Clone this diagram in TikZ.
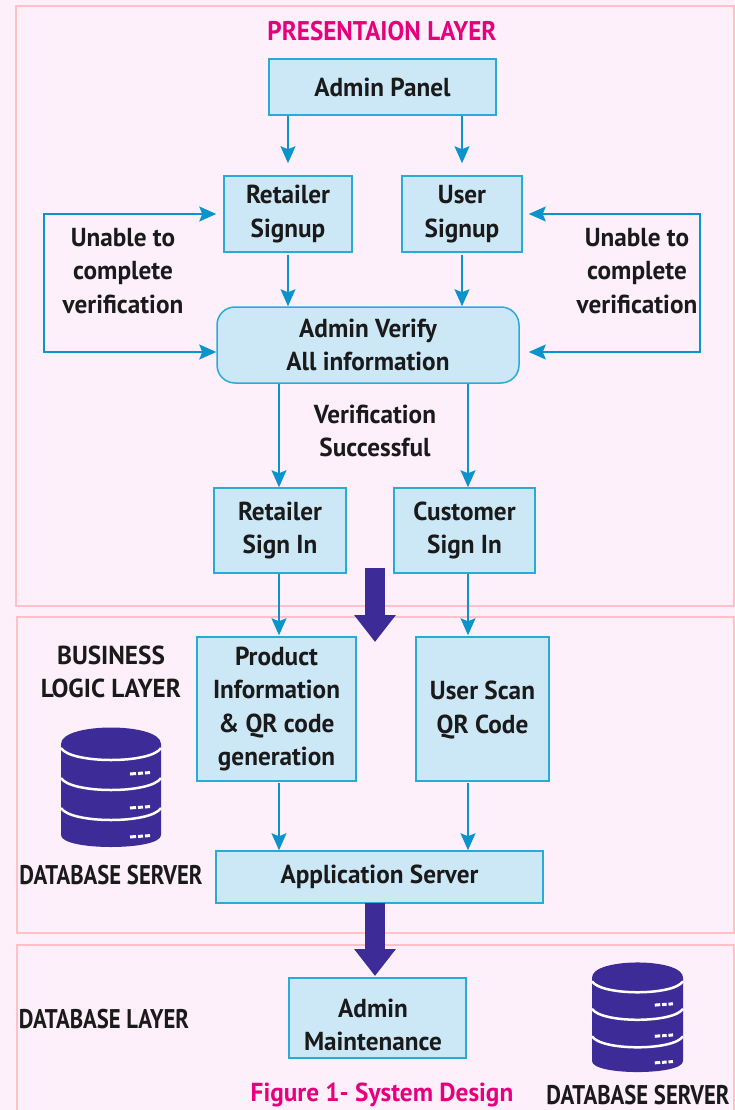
\documentclass[tikz,border=0pt]{standalone}
\usepackage{fontspec}
\setmainfont[FakeStretch=0.97]{PT Sans}
\newfontfamily\narrowfont[FakeStretch=0.84]{PT Sans}
\newfontfamily\titlefont[FakeStretch=0.93]{PT Sans}
\usetikzlibrary{arrows.meta}

\definecolor{pagepink}{HTML}{FDF0FA}
\definecolor{layerline}{HTML}{FFC0C8}
\definecolor{boxfill}{HTML}{CCE8F6}
\definecolor{boxline}{HTML}{29ABD9}
\definecolor{flowblue}{HTML}{0B94CC}
\definecolor{dbblue}{HTML}{3D2C97}
\definecolor{headpink}{HTML}{E6007E}
\definecolor{inkblack}{HTML}{1A1A1A}

\tikzset{
	layer/.style={draw=layerline, line width=1.5pt},
	label/.style={text=inkblack, align=center, inner sep=0pt, font=\fontsize{26}{33.5}\selectfont\bfseries},
	dblabel/.style={label, font=\fontsize{27}{33.5}\narrowfont\bfseries},
	head/.style={label, text=headpink},
	box/.style={label, draw=boxline, fill=boxfill, line width=1.5pt},
	flow/.style={draw=flowblue, line width=1.5pt, -{Stealth[length=17pt,width=15pt,inset=3pt]}},
	loop/.style={draw=flowblue, line width=1.5pt, {Stealth[length=17pt,width=15pt,inset=3pt]}-{Stealth[length=17pt,width=15pt,inset=3pt]}},
	bigflow/.style={draw=dbblue, line width=20pt, -{Triangle[length=27pt,width=40pt]}},
	dbserver/.pic={
		\fill[dbblue] (0,17) .. controls (0,-5) and (100,-5) .. (100,17) -- (100,108) .. controls (100,124) and (0,124) .. (0,108) -- cycle;
		\foreach \i/\j in {0/0,30/34,60/63} {
			\draw[white, line width=2.5pt] (0,21+\i) .. controls (10,37+\i) and (90,37+\i) .. (100,21+\i);
			\draw[white, line width=3pt] (69,47+\j) -- (75,46.5+\j) (77,46.5+\j) -- (82,46+\j) (84,46+\j) -- (89,45.5+\j);
		}
	}
}

\begin{document}
\begin{tikzpicture}[x=1pt, y=-1pt]

	\useasboundingbox (0,0) rectangle (735,1110);
	\fill[pagepink] (0,0) rectangle (735,1110);

	% layers
	\draw[layer] (16,6) rectangle (734,606);
	\draw[layer] (17,617) rectangle (734,933);
	\draw[layer] (17,945) rectangle (734,1112);

	% columns of the arrows below the verify box
	\coordinate (colL) at (279,0);
	\coordinate (colR) at (468,0);
	\coordinate (loopL) at (44,352);
	\coordinate (loopR) at (700,352);

	\node[head, font=\fontsize{27}{33.5}\titlefont\bfseries] (title) at (382,31) {PRESENTAION LAYER};

	\node[box, minimum width=227pt, minimum height=56pt] (panel) at (382.5,87) {Admin Panel};
	\node[box, minimum width=128pt, minimum height=76pt] (retailer) at (288,214) {Retailer\\Signup};
	\node[box, minimum width=120pt, minimum height=76pt] (user) at (462,214) {User\\Signup};
	\node[box, rounded corners=18pt, minimum width=302pt, minimum height=76pt] (verify) at (368,345) {Admin Verify\\All information};

	\node[label] (unableL) at (123,271) {Unable to\\complete\\verification};
	\node[label] (unableR) at (637,271) {Unable to\\complete\\verification};
	\node[label] (success) at (375,431) {Verification\\Successful};

	\node[box, minimum width=132pt, minimum height=85pt] (retailerin) at (280,530.5) {Retailer\\Sign In};
	\node[box, minimum width=141pt, minimum height=85pt] (customer) at (464.5,530.5) {Customer\\Sign In};

	\node[label] (business) at (111,672) {BUSINESS\\LOGIC LAYER};
	\node[box, minimum width=159pt, minimum height=144pt] (product) at (276.5,709) {Product\\Information\\\& QR code\\generation};
	\node[box, minimum width=133pt, minimum height=144pt] (scan) at (482.5,709) {};
	\node[label] (scantext) at (482.5,710) {User Scan\\QR Code};

	\node[dblabel] (serverA) at (111,875) {DATABASE SERVER};
	\node[box, minimum width=327pt, minimum height=52pt] (app) at (379.5,877) {Application Server};

	\node[dblabel] (dblayer) at (104,1019) {DATABASE LAYER};
	\node[box, minimum width=177pt, minimum height=80pt] (maint) at (377.5,1018) {};
	\node[label] (mainttext) at (373,1025) {Admin\\Maintenance};
	\node[head] (caption) at (382,1095) {Figure 1- System Design};
	\node[dblabel] (serverB) at (638,1095.5) {DATABASE SERVER};

	\pic at (61,727) {dbserver};
	\pic[xscale=.91, yscale=.917] at (592,962) {dbserver};

	% top part
	\draw[flow, shorten >=12pt] (panel.south -| retailer.north) -- (retailer.north);
	\draw[flow, shorten >=12pt] (panel.south -| user.north) -- (user.north);
	\draw[flow, shorten <=2pt] (retailer.south) -- (verify.north -| retailer.south);
	\draw[flow, shorten <=2pt] (user.south) -- (verify.north -| user.south);

	\draw[loop, shorten >=7pt] (verify.west |- loopL) -- (loopL) -- (loopL |- retailer.west) -- (retailer.west);
	\draw[loop, shorten <=9pt, shorten >=6pt] (verify.east |- loopR) -- (loopR) -- (loopR |- user.east) -- (user.east);

	% sign in and below
	\draw[flow] (verify.south -| colL) -- (retailerin.north -| colL);
	\draw[flow] (verify.south -| colR) -- (customer.north -| colR);
	\draw[flow, shorten >=1pt] (retailerin.south -| colL) -- (product.north -| colL);
	\draw[flow, shorten >=1pt] (customer.south -| colR) -- (scan.north -| colR);
	\draw[flow, shorten <=1pt] (product.south -| colL) -- (app.north -| colL);
	\draw[flow, shorten <=1pt] (scan.south -| colR) -- (app.north -| colR);

	% big arrows
	\coordinate (bigA) at (375,568);
	\coordinate (bigB) at (375,642);
	\coordinate (bigC) at (375,903);
	\coordinate (bigD) at (375,976);
	\draw[bigflow] (bigA) -- (bigB);
	\draw[bigflow] (bigC) -- (bigD);

\end{tikzpicture}
\end{document}
